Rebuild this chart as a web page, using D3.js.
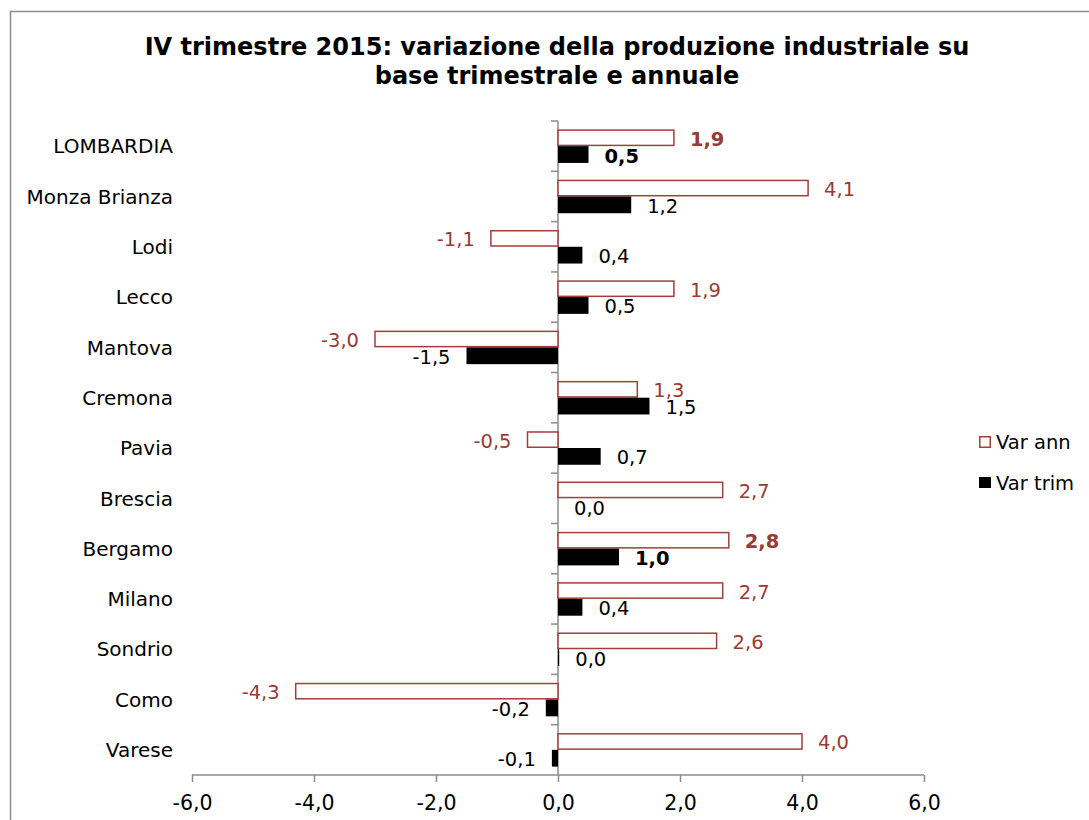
<!DOCTYPE html>
<html>
<head>
<meta charset="utf-8">
<script src="https://cdn.jsdelivr.net/npm/d3@7"></script>
<style>
    body { margin: 0; background: #fff; }
    text { font-family: "DejaVu Sans", Verdana, sans-serif; }
</style>
</head>
<body>
<div id="chart-area"></div>
<script>

// provinces, top to bottom
let provinces = ["LOMBARDIA", "Monza Brianza", "Lodi", "Lecco", "Mantova", "Cremona", "Pavia",
    "Brescia", "Bergamo", "Milano", "Sondrio", "Como", "Varese"];

// variazione annuale
let varAnn = [1.9, 4.1, -1.1, 1.9, -3.0, 1.3, -0.5, 2.7, 2.8, 2.7, 2.6, -4.3, 4.0];

// variazione trimestrale
let varTrim = [0.5, 1.2, 0.4, 0.5, -1.5, 1.5, 0.7, 0.0, 1.0, 0.4, 0.02, -0.2, -0.1];

// labels drawn in bold
let boldRows = ["LOMBARDIA", "Bergamo"];

let xTicks = [-6, -4, -2, 0, 2, 4, 6];

let seriesNames = ["Var ann", "Var trim"];

let titleLines = ["IV trimestre 2015: variazione della produzione industriale su",
    "base trimestrale e annuale"];


class ProductionVis {

    constructor(parentElement) {
        this.parentElement = parentElement;
        this.initVis()
    }

    initVis() {
        let vis = this;

        vis.width = 1089;
        vis.height = 820;

        vis.svg = d3.select("#" + vis.parentElement).append("svg")
            .attr("width", vis.width)
            .attr("height", vis.height);

        vis.annColor = "#a0403b";
        vis.annText = "#9a3a35";
        vis.axisColor = "#8c8c8c";
        vis.fontSize = 19.5;

        // outer chart border (runs off the picture on the right and bottom)
        vis.svg.append("rect")
            .attr("x", 10.5)
            .attr("y", 11.5)
            .attr("width", 1200)
            .attr("height", 1000)
            .attr("fill", "none")
            .attr("stroke", vis.axisColor)
            .attr("stroke-width", 1.5);

        vis.svg.selectAll(".title-line")
            .data(titleLines)
            .enter().append("text")
            .attr("class", "title-line")
            .attr("x", 557)
            .attr("y", (d, i) => 55 + i * 29)
            .attr("text-anchor", "middle")
            .style("font-size", "24px")
            .style("font-weight", "bold")
            .text(d => d);

        vis.x = d3.scaleLinear()
            .domain([-6, 6])
            .range([192, 924]);

        vis.y = d3.scaleBand()
            .domain(provinces)
            .range([121, 775])
            .padding(0);

        vis.ySeries = d3.scaleBand()
            .domain(seriesNames)
            .range([0, vis.y.bandwidth()])
            .paddingInner(0)
            .paddingOuter(0.5);

        vis.wrangleData()
    }

    wrangleData() {
        let vis = this;

        vis.displayData = provinces.map((p, i) => ({
            name: p,
            ann: varAnn[i],
            trim: varTrim[i],
            bold: boldRows.includes(p)
        }));

        vis.updateVis()
    }

    updateVis() {
        let vis = this;

        // comma decimals, plain hyphen for minus
        let fmt = v => d3.format(".1f")(v).replace("−", "-").replace(".", ",").replace("-0,0", "0,0");

        // x axis
        let xAxis = d3.axisBottom(vis.x)
            .tickValues(xTicks)
            .tickSize(7)
            .tickFormat(fmt);

        let xg = vis.svg.append("g")
            .attr("class", "x-axis")
            .attr("transform", "translate(0,775)")
            .call(xAxis);
        xg.select(".domain").attr("stroke", vis.axisColor).attr("stroke-width", 1.5)
            .attr("d", `M${vis.x(-6)},0H${vis.x(6)}`);
        xg.selectAll(".tick line").attr("stroke", vis.axisColor).attr("stroke-width", 1.5);
        xg.selectAll(".tick text")
            .attr("y", 35)
            .attr("dy", 0)
            .attr("fill", "#000")
            .style("font-size", "20.5px")
            .style("font-family", '"DejaVu Sans", Verdana, sans-serif');

        // y axis at zero, ticks between categories
        let yg = vis.svg.append("g").attr("class", "y-axis");
        yg.append("line")
            .attr("x1", vis.x(0)).attr("x2", vis.x(0))
            .attr("y1", vis.y.range()[0]).attr("y2", vis.y.range()[1])
            .attr("stroke", vis.axisColor)
            .attr("stroke-width", 1.5);
        yg.selectAll(".y-tick")
            .data(provinces)
            .enter().append("line")
            .attr("class", "y-tick")
            .attr("x1", vis.x(0) - 7).attr("x2", vis.x(0))
            .attr("y1", d => vis.y(d)).attr("y2", d => vis.y(d))
            .attr("stroke", vis.axisColor)
            .attr("stroke-width", 1.5);

        // category labels
        vis.svg.selectAll(".cat-label")
            .data(vis.displayData)
            .enter().append("text")
            .attr("class", "cat-label")
            .attr("x", 173)
            .attr("y", d => vis.y(d.name) + vis.y.bandwidth() / 2)
            .attr("dy", "0.36em")
            .attr("text-anchor", "end")
            .style("font-size", "20px")
            .text(d => d.name);

        vis.rowGroups = vis.svg.selectAll(".bar-row")
            .data(vis.displayData)
            .enter().append("g")
            .attr("class", "bar-row")
            .attr("transform", d => `translate(0, ${vis.y(d.name)})`);

        // Var ann: outlined bars
        vis.rowGroups.append("rect")
            .attr("class", "bar-ann")
            .attr("x", d => vis.x(Math.min(0, d.ann)))
            .attr("y", vis.ySeries("Var ann") + 0.75)
            .attr("width", d => Math.abs(vis.x(d.ann) - vis.x(0)))
            .attr("height", vis.ySeries.bandwidth() - 1.5)
            .attr("fill", "#fff")
            .attr("stroke", vis.annColor)
            .attr("stroke-width", 1.5);

        // Var trim: solid black bars
        vis.rowGroups.append("rect")
            .attr("class", "bar-trim")
            .attr("x", d => vis.x(Math.min(0, d.trim)))
            .attr("y", vis.ySeries("Var trim"))
            .attr("width", d => Math.abs(vis.x(d.trim) - vis.x(0)))
            .attr("height", vis.ySeries.bandwidth())
            .attr("fill", "#000");

        let labelPos = v => v < 0 ? vis.x(v) - 16 : vis.x(v) + 16;

        vis.rowGroups.append("text")
            .attr("x", d => labelPos(d.ann))
            .attr("y", vis.ySeries("Var ann") + vis.ySeries.bandwidth() / 2 + 1)
            .attr("dy", "0.36em")
            .attr("text-anchor", d => d.ann < 0 ? "end" : "start")
            .attr("fill", vis.annText)
            .style("font-size", vis.fontSize + "px")
            .style("font-weight", d => d.bold ? "bold" : "normal")
            .text(d => fmt(d.ann));

        vis.rowGroups.append("text")
            .attr("x", d => labelPos(d.trim))
            .attr("y", vis.ySeries("Var trim") + vis.ySeries.bandwidth() / 2 + 1)
            .attr("dy", "0.36em")
            .attr("text-anchor", d => d.trim < 0 ? "end" : "start")
            .attr("fill", "#000")
            .style("font-size", vis.fontSize + "px")
            .style("font-weight", d => d.bold ? "bold" : "normal")
            .text(d => fmt(d.trim));

        // legend
        let legend = vis.svg.selectAll(".legend-item")
            .data(seriesNames)
            .enter().append("g")
            .attr("class", "legend-item")
            .attr("transform", (d, i) => `translate(979, ${436 + i * 41})`);

        legend.append("rect")
            .attr("x", (d, i) => i === 0 ? 0.75 : 0)
            .attr("y", (d, i) => i === 0 ? 0.75 : 0)
            .attr("width", (d, i) => i === 0 ? 10.5 : 12)
            .attr("height", (d, i) => i === 0 ? 10.5 : 11)
            .attr("fill", (d, i) => i === 0 ? "#fff" : "#000")
            .attr("stroke", (d, i) => i === 0 ? vis.annColor : "none")
            .attr("stroke-width", 1.5);

        legend.append("text")
            .attr("x", 17)
            .attr("y", 6)
            .attr("dy", "0.36em")
            .style("font-size", vis.fontSize + "px")
            .text(d => d);
    }
}

new ProductionVis("chart-area");

</script>
</body>
</html>
